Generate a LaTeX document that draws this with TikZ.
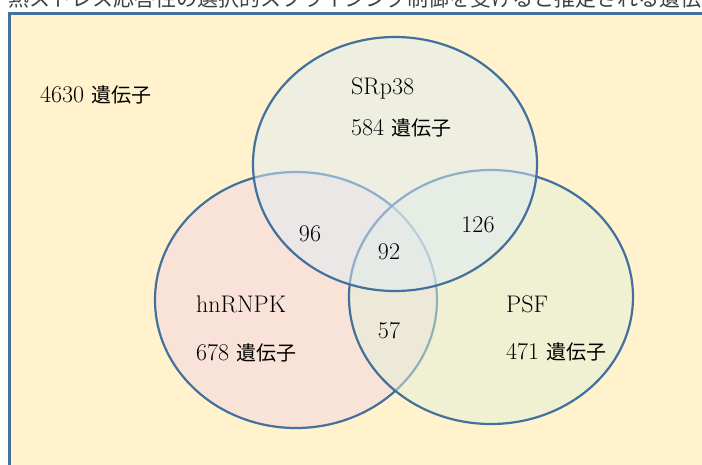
\documentclass[tikz,border=0pt]{standalone}
\usepackage{fontspec}
\newfontfamily\jpfont{Noto Sans CJK JP}
\definecolor{bgyellow}{HTML}{FFF2CC}
\definecolor{edgeblue}{HTML}{41719C}
\definecolor{fillsr}{HTML}{DEEBF7}
\definecolor{fillhn}{HTML}{F5D6E4}
\definecolor{fillpsf}{HTML}{E2F0D9}
\definecolor{titlegray}{HTML}{404040}
\newcommand\geneword{{\jpfont\fontsize{20}{20}\selectfont 遺伝子}}
\tikzset{
  setshape/.style={draw=edgeblue, line width=2.2pt, fill opacity=0.5},
  lbl/.style={inner sep=0pt, anchor=base west, font=\fontsize{24}{24}\selectfont},
  num/.style={inner sep=0pt, anchor=center, font=\fontsize{24}{24}\selectfont}
}
\begin{document}
\begin{tikzpicture}[x=1pt,y=-1pt]
\useasboundingbox (0,0) rectangle (702,464);
\clip (0,0) rectangle (702,464);
% title line (cut off at the top)
\node[inner sep=0pt, anchor=base west, text=titlegray, font=\jpfont\fontsize{21}{21}\selectfont] (title) at (8,6.5) {熱ストレス応答性の選択的スプライシング制御を受けると推定される遺伝子};
% frame
\draw[fill=bgyellow, draw=edgeblue, line width=2.6pt] (9.5,13.5) rectangle (720,480);
% sets
\path[setshape, fill=fillhn] (296,300) ellipse [x radius=141pt, y radius=128pt];
\path[setshape, fill=fillpsf] (491,297) ellipse [x radius=142pt, y radius=127pt];
\path[setshape, fill=fillsr] (395,164) ellipse [x radius=142pt, y radius=127pt];
% labels
\node[lbl] (univ) at (40,102) {4630 \geneword};
\node[lbl] (srname) at (351,94) {SRp38};
\node[lbl] (srcount) at (351,135) {584 \geneword};
\node[lbl] (hnname) at (196,312) {hnRNPK};
\node[lbl] (hncount) at (196,360) {678 \geneword};
\node[lbl] (psfname) at (506,312) {PSF};
\node[lbl] (psfcount) at (506,359) {471 \geneword};
\node[num] (n96) at (310,234) {96};
\node[num] (n126) at (478,225) {126};
\node[num] (n92) at (389,252) {92};
\node[num] (n57) at (389,331) {57};
\end{tikzpicture}
\end{document}
